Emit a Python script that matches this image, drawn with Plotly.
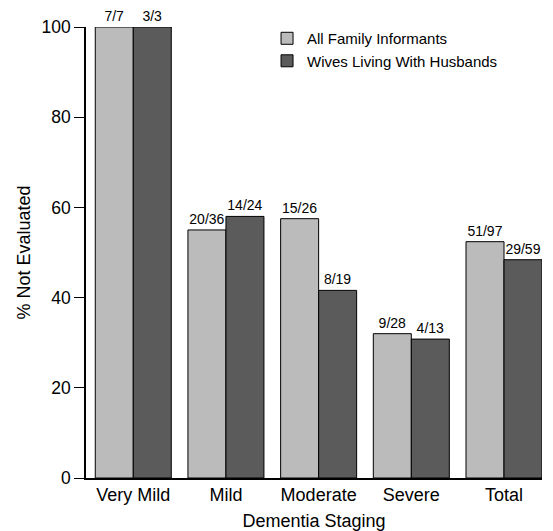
import plotly.graph_objects as go

categories = ["Very Mild", "Mild", "Moderate", "Severe", "Total"]
all_labels = ["7/7", "20/36", "15/26", "9/28", "51/97"]
all_values = [100.0, 55.0, 57.5, 32.0, 52.4]
wives_labels = ["3/3", "14/24", "8/19", "4/13", "29/59"]
wives_values = [100.0, 58.0, 41.6, 30.8, 48.4]

font = "Liberation Sans, Arial, sans-serif"
x = list(range(len(categories)))

fig = go.Figure()
fig.add_trace(go.Bar(
    x=x, y=all_values, name="All Family Informants",
    marker=dict(color="#bbbbbb", line=dict(color="black", width=1)),
    text=all_labels, textposition="outside", cliponaxis=False,
    constraintext="none",
    textfont=dict(size=14, color="black"),
))
fig.add_trace(go.Bar(
    x=x, y=wives_values, name="Wives Living With Husbands",
    marker=dict(color="#5b5b5b", line=dict(color="black", width=1)),
    text=wives_labels, textposition="outside", cliponaxis=False,
    constraintext="none",
    textfont=dict(size=14, color="black"),
))

fig.update_layout(
    width=553, height=531,
    margin=dict(l=78, r=19, t=19, b=61, autoexpand=False),
    paper_bgcolor="white", plot_bgcolor="white",
    font=dict(family=font, size=18, color="black"),
    barmode="group", bargap=0.18, bargroupgap=0,
    showlegend=True,
    legend=dict(x=0.397, y=1.011, xanchor="left", yanchor="top",
                font=dict(size=15), bgcolor="rgba(0,0,0,0)",
                tracegroupgap=0, itemwidth=30),
    xaxis=dict(
        tickmode="array", tickvals=x, ticktext=categories,
        range=[-0.51, 4.41], showline=True, linecolor="black", linewidth=1.5,
        ticks="", showgrid=False, zeroline=False, tickfont=dict(size=18),
        automargin=False,
        title=dict(text="Dementia Staging", font=dict(size=18), standoff=10),
    ),
    yaxis=dict(
        range=[0, 100], tickvals=[0, 20, 40, 60, 80, 100],
        showline=True, linecolor="black", linewidth=1.5,
        ticks="outside", ticklen=10, tickwidth=1, tickcolor="black",
        showgrid=False, zeroline=False, tickfont=dict(size=17.5),
        automargin=False,
        title=dict(text="% Not Evaluated", font=dict(size=18), standoff=6),
    ),
)

fig.write_html("out.html")
